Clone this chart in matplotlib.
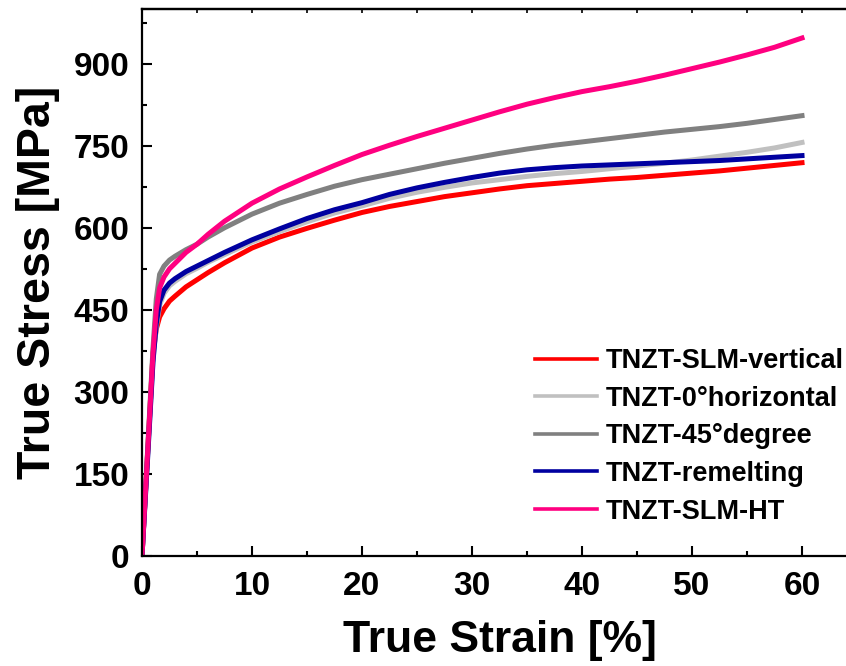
import matplotlib
matplotlib.use("Agg")
import matplotlib.pyplot as plt
from matplotlib.ticker import MultipleLocator

plt.rcParams['font.family'] = ['Liberation Sans', 'DejaVu Sans']
plt.rcParams['font.weight'] = 'bold'

# True strain [%] sample points shared by all curves
strain = [0, 0.5, 1.0, 1.3, 1.6, 2.0, 2.5, 3, 4, 5, 6, 7.5, 10, 12.5, 15, 17.5,
          20, 22.5, 25, 27.5, 30, 32.5, 35, 37.5, 40, 42.5, 45, 47.5, 50, 52.5,
          55, 57.5, 60]

# True stress [MPa] for each specimen
slm_vertical = [0, 185, 370, 415, 437, 452, 466, 475, 492, 505, 518, 536, 563, 583,
                599, 614, 628, 639, 648, 657, 664, 671, 677, 681, 685, 689, 692,
                696, 700, 704, 709, 714, 719]
horizontal_0 = [0, 180, 360, 420, 458, 480, 494, 502, 516, 526, 537, 551, 574, 593,
                611, 627, 640, 654, 665, 674, 682, 688, 694, 699, 703, 708, 713,
                718, 724, 731, 738, 746, 756]
degree_45 = [0, 190, 380, 470, 515, 530, 541, 548, 560, 570, 583, 600, 625, 645,
             661, 676, 688, 698, 708, 718, 727, 736, 744, 751, 757, 763, 769,
             775, 780, 785, 791, 798, 805]
remelting = [0, 175, 355, 425, 465, 486, 499, 507, 520, 530, 540, 555, 578, 598,
             617, 633, 646, 661, 673, 683, 692, 700, 706, 710, 713, 715, 717,
             719, 721, 723, 726, 729, 732]
slm_ht = [0, 185, 370, 450, 490, 510, 525, 535, 555, 570, 588, 612, 645, 671,
          693, 714, 734, 751, 767, 782, 797, 812, 826, 838, 849, 858, 868,
          879, 891, 903, 916, 930, 947]

labels = ['TNZT-SLM-vertical', 'TNZT-0°horizontal', 'TNZT-45°degree',
          'TNZT-remelting', 'TNZT-SLM-HT']
series = [slm_vertical, horizontal_0, degree_45, remelting, slm_ht]
colors = ['#FF0000', '#C0C0C0', '#808080', '#0000A0', '#FF0080']

fig = plt.figure(figsize=(8.46, 6.66), dpi=100)
ax = fig.add_axes([142 / 846, 110 / 666, 715 / 846, 547 / 666])

for y, lab, c in zip(series, labels, colors):
    ax.plot(strain, y, color=c, lw=3.6, label=lab, solid_joinstyle='round')

ax.set_xlim(0, 65)
ax.set_ylim(0, 1000)
ax.xaxis.set_major_locator(MultipleLocator(10))
ax.xaxis.set_minor_locator(MultipleLocator(5))
ax.yaxis.set_major_locator(MultipleLocator(150))
ax.yaxis.set_minor_locator(MultipleLocator(75))

for s in ax.spines.values():
    s.set_linewidth(1.6)
ax.spines['right'].set_visible(False)

ax.tick_params(which='both', direction='in', top=False, right=False, width=1.5)
ax.tick_params(which='major', length=7, labelsize=24)
ax.tick_params(which='minor', length=3.5)
ax.tick_params(axis='y', which='major', pad=9)
ax.tick_params(axis='x', which='major', pad=11)

# small inward ticks along the top edge
top = ax.secondary_xaxis('top')
top.xaxis.set_major_locator(MultipleLocator(5))
top.tick_params(direction='in', length=3, width=1.2, labeltop=False)
top.spines['top'].set_linewidth(1.6)

ax.set_xlabel('True Strain [%]', fontsize=32, fontweight='bold', labelpad=13)
ax.set_ylabel('True Stress [MPa]', fontsize=33.5, fontweight='bold', labelpad=10)

leg = ax.legend(loc='upper left', bbox_to_anchor=(535 / 846, 1 - 348 / 666),
                bbox_transform=fig.transFigure, frameon=False, fontsize=19.5,
                handlelength=2.3, handletextpad=0.3, labelspacing=0.43,
                borderpad=0, borderaxespad=0)
for ln in leg.get_lines():
    ln.set_linewidth(2.6)
for t in leg.get_texts():
    t.set_fontweight('bold')

fig.savefig('out.png', dpi=100)
